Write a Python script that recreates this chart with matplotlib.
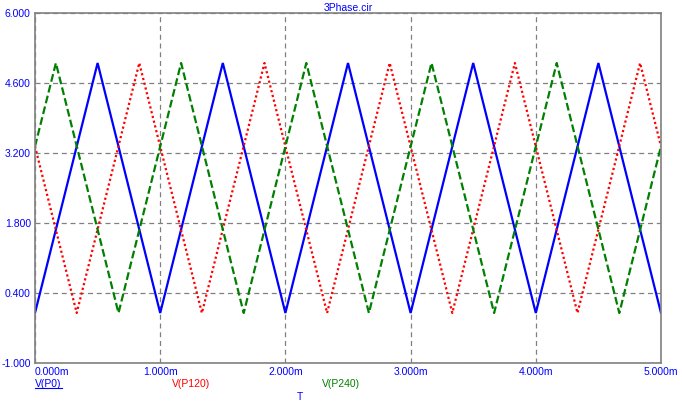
import matplotlib
matplotlib.use("Agg")
import matplotlib.pyplot as plt
from matplotlib.lines import Line2D

plt.rcParams['font.family'] = ['Liberation Sans', 'DejaVu Sans']
plt.rcParams['font.size'] = 7.5

# --- データ (時間は ms) ---
t_p0 = [0.0, 0.5, 1.0, 1.5, 2.0, 2.5, 3.0, 3.5, 4.0, 4.5, 5.0]
v_p0 = [0.0, 5.0, 0.0, 5.0, 0.0, 5.0, 0.0, 5.0, 0.0, 5.0, 0.0]

t_p120 = [0.0, 0.333, 0.833, 1.333, 1.833, 2.333, 2.833, 3.333, 3.833, 4.333, 4.833, 5.0]
v_p120 = [3.333, 0.0, 5.0, 0.0, 5.0, 0.0, 5.0, 0.0, 5.0, 0.0, 5.0, 3.333]

t_p240 = [0.0, 0.167, 0.667, 1.167, 1.667, 2.167, 2.667, 3.167, 3.667, 4.167, 4.667, 5.0]
v_p240 = [3.333, 5.0, 0.0, 5.0, 0.0, 5.0, 0.0, 5.0, 0.0, 5.0, 0.0, 3.333]

x_ticks = [0, 1, 2, 3, 4, 5]
x_labels = ['0.000m', '1.000m', '2.000m', '3.000m', '4.000m', '5.000m']
y_ticks = [-1.0, 0.4, 1.8, 3.2, 4.6, 6.0]
y_labels = ['-1.000', '0.400', '1.800', '3.200', '4.600', '6.000']

BLUE = '#0000ff'
RED = '#ff0000'
GREEN = '#008000'
GRAY = '#808080'

fig = plt.figure(figsize=(6.82, 4.05), dpi=100)
ax = fig.add_axes([35/682, 42/405, 626/682, 350/405])

ax.plot(t_p0, v_p0, color=BLUE, lw=1.6, solid_joinstyle='miter')
ax.plot(t_p120, v_p120, color=RED, lw=1.6, linestyle=(0, (1, 1.2)))
ax.plot(t_p240, v_p240, color=GREEN, lw=1.6, linestyle=(0, (3.5, 1.5)))

ax.set_xlim(0, 5)
ax.set_ylim(-1, 6)
ax.set_xticks(x_ticks)
ax.set_xticklabels(x_labels)
ax.set_yticks(y_ticks)
ax.set_yticklabels(y_labels)
ax.tick_params(length=0, colors=BLUE, pad=3)
ax.xaxis.get_majorticklabels()[0].set_horizontalalignment('left')

for s in ax.spines.values():
    s.set_color(GRAY)
    s.set_linewidth(1.2)

ax.grid(True, color=GRAY, linestyle=(0, (4, 3)), linewidth=0.9)
ax.set_axisbelow(True)

ax.set_title('3Phase.cir', color=BLUE, fontsize=7.5, pad=1.5)

# 凡例 (下部)
leg_y = 384
txt0 = fig.text(35/682, 1 - leg_y/405, 'V(P0)', color=BLUE, va='center', ha='left')
fig.text(172/682, 1 - leg_y/405, 'V(P120)', color=RED, va='center', ha='left')
fig.text(322/682, 1 - leg_y/405, 'V(P240)', color=GREEN, va='center', ha='left')
fig.text(297/682, 1 - 397/405, 'T', color=BLUE, va='center', ha='left')

# V(P0) に下線
fig.canvas.draw()
bb = txt0.get_window_extent().transformed(fig.transFigure.inverted())
fig.add_artist(Line2D([bb.x0, bb.x1], [bb.y0 + 0.002, bb.y0 + 0.002],
                      transform=fig.transFigure, color=BLUE, lw=0.8))

fig.savefig('out.png', dpi=100)
